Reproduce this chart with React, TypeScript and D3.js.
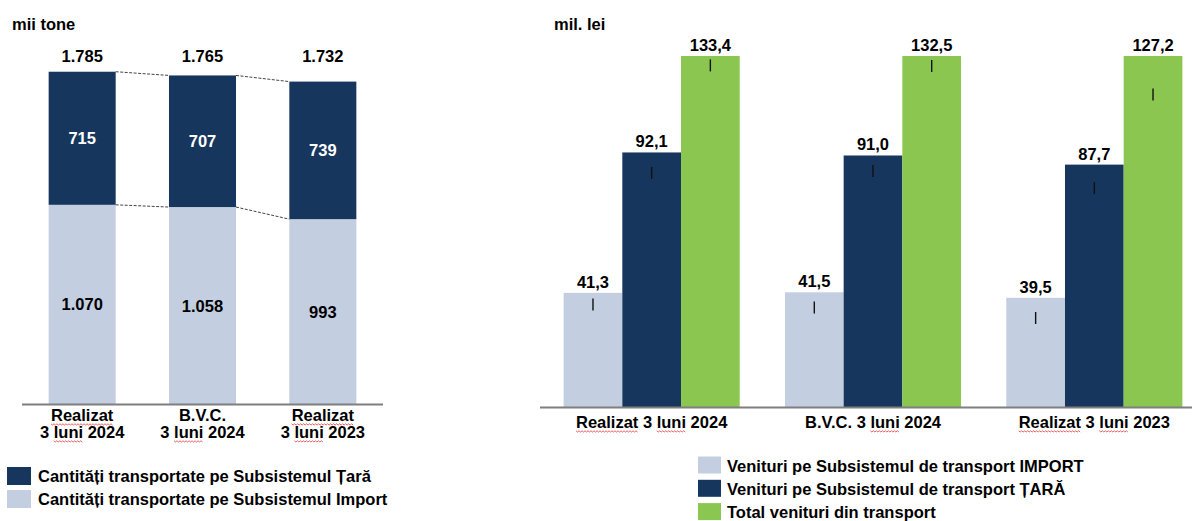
import React, { useEffect, useRef } from "react";
import * as d3 from "d3";

// ---------- data ----------
const qtyCategories = [
  ["Realizat", "3 luni 2024"],
  ["B.V.C.", "3 luni 2024"],
  ["Realizat", "3 luni 2023"],
];
const qtyTara = [715, 707, 739];
const qtyImport = [1070, 1058, 993];
const qtyTotal = [1785, 1765, 1732];
const qtyLegend = [
  "Cantități transportate pe Subsistemul Țară",
  "Cantități transportate pe Subsistemul Import",
];

const revCategories = ["Realizat 3 luni 2024", "B.V.C. 3 luni 2024", "Realizat 3 luni 2023"];
const revSeries = ["import", "tara", "total"];
const revImport = [41.3, 41.5, 39.5];
const revTara = [92.1, 91.0, 87.7];
const revTotal = [133.4, 132.5, 127.2];
const markImport = [37.1, 36.0, 32.2];
const markTara = [84.7, 85.4, 79.2];
const markTotal = [123.6, 123.4, 113.1];
const revLegend = [
  "Venituri pe Subsistemul de transport IMPORT",
  "Venituri pe Subsistemul de transport ȚARĂ",
  "Total venituri din transport",
];
const misspelled = ["Realizat", "luni"];

// ---------- style ----------
const NAVY = "#17365d";
const LIGHT = "#c3cee0";
const GREEN = "#8bc750";
const AXIS = "#7f7f7f";
const FONT = "'Liberation Sans', Arial, sans-serif";
const FS = 16.5;

const locale = d3.formatLocale({ decimal: ",", thousands: ".", grouping: [3], currency: ["", ""] });
const fmtInt = locale.format(",d");
const fmtDec = locale.format(",.1f");

function squiggle(g: any, textSel: any, baseline: number) {
  const node = textSel.node() as SVGTextElement;
  const txt = node.textContent || "";
  const bb = node.getBBox();
  misspelled.forEach((w) => {
    let idx = txt.indexOf(w);
    while (idx >= 0) {
      const start = bb.x + (idx > 0 ? node.getSubStringLength(0, idx) : 0);
      const len = node.getSubStringLength(idx, w.length);
      const pts: [number, number][] = [];
      for (let x = 0, k = 0; x <= len; x += 1.5, k++) pts.push([start + x, baseline + 3 + (k % 2 ? 1 : -0.2)]);
      g.append("path")
        .attr("d", d3.line()(pts))
        .attr("fill", "none")
        .attr("stroke", "#e23a3a")
        .attr("stroke-width", 0.8);
      idx = txt.indexOf(w, idx + w.length);
    }
  });
}

export default function App() {
  const ref = useRef<SVGSVGElement>(null);

  useEffect(() => {
    const svg = d3.select(ref.current);
    svg.selectAll("*").remove();
    svg.attr("font-family", FONT).attr("font-weight", "bold");

    // ================= LEFT CHART =================
    const L = svg.append("g");
    const xL = d3.scaleBand<number>().domain([0, 1, 2]).range([22, 383]).paddingInner(0.443).paddingOuter(0.2215);
    const yL = d3.scaleLinear().domain([0, 2000]).range([404, 31.7]);
    const bw = xL.bandwidth();

    L.append("text").attr("x", 12).attr("y", 30).attr("font-size", FS).attr("fill", "#000").text("mii tone");

    qtyCategories.forEach((_, i) => {
      const x = xL(i)!;
      L.append("rect")
        .attr("x", x).attr("width", bw)
        .attr("y", yL(qtyImport[i])).attr("height", yL(0) - yL(qtyImport[i]))
        .attr("fill", LIGHT);
      L.append("rect")
        .attr("x", x).attr("width", bw)
        .attr("y", yL(qtyTotal[i])).attr("height", yL(qtyImport[i]) - yL(qtyTotal[i]))
        .attr("fill", NAVY);
    });

    for (let i = 0; i < qtyCategories.length - 1; i++) {
      [qtyTotal, qtyImport].forEach((arr) => {
        L.append("line")
          .attr("x1", xL(i)! + bw).attr("y1", yL(arr[i]))
          .attr("x2", xL(i + 1)!).attr("y2", yL(arr[i + 1]))
          .attr("stroke", "#444").attr("stroke-width", 1).attr("stroke-dasharray", "3,1.5");
      });
    }

    qtyCategories.forEach((_, i) => {
      const cx = xL(i)! + bw / 2;
      L.append("text").attr("x", cx).attr("y", 62).attr("text-anchor", "middle")
        .attr("font-size", FS).attr("fill", "#000").text(fmtInt(qtyTotal[i]));
      L.append("text").attr("x", cx).attr("y", (yL(qtyTotal[i]) + yL(qtyImport[i])) / 2 + 6)
        .attr("text-anchor", "middle").attr("font-size", FS).attr("fill", "#fff").text(fmtInt(qtyTara[i]));
      L.append("text").attr("x", cx).attr("y", (yL(qtyImport[i]) + yL(0)) / 2 + 6)
        .attr("text-anchor", "middle").attr("font-size", FS).attr("fill", "#000").text(fmtInt(qtyImport[i]));
    });

    L.append("line").attr("x1", 22).attr("x2", 383).attr("y1", yL(0) + 0.5).attr("y2", yL(0) + 0.5)
      .attr("stroke", AXIS).attr("stroke-width", 2);
    qtyCategories.forEach((lines, i) => {
      const cx = xL(i)! + bw / 2;
      lines.forEach((ln, j) => {
        const by = 421 + j * 17;
        const t = L.append("text").attr("x", cx).attr("y", by).attr("text-anchor", "middle")
          .attr("font-size", FS).attr("fill", "#000").text(ln);
        squiggle(L, t, by);
      });
    });

    [NAVY, LIGHT].forEach((c, i) => {
      const ty = 482 + i * 23;
      L.append("rect").attr("x", 7).attr("y", ty - 15).attr("width", 24).attr("height", 18).attr("fill", c);
      L.append("text").attr("x", 38).attr("y", ty).attr("font-size", FS).attr("fill", "#000").text(qtyLegend[i]);
    });

    // ================= RIGHT CHART =================
    const R = svg.append("g");
    const x0 = d3.scaleBand<number>().domain([0, 1, 2]).range([541, 1205]).paddingInner(0.2045).paddingOuter(0.10225);
    const x1 = d3.scaleBand<string>().domain(revSeries).range([0, x0.bandwidth()]);
    const yR = d3.scaleLinear().domain([0, 127]).range([407, 56]).clamp(true);
    const values: Record<string, number[]> = { import: revImport, tara: revTara, total: revTotal };
    const marks: Record<string, number[]> = { import: markImport, tara: markTara, total: markTotal };
    const colors: Record<string, string> = { import: LIGHT, tara: NAVY, total: GREEN };

    R.append("text").attr("x", 554).attr("y", 30).attr("font-size", FS).attr("fill", "#000").text("mil. lei");

    revCategories.forEach((_, i) => {
      revSeries.forEach((s) => {
        const v = values[s][i];
        const x = x0(i)! + x1(s)!;
        const w = x1.bandwidth();
        R.append("rect").attr("x", x).attr("width", w)
          .attr("y", yR(v)).attr("height", yR(0) - yR(v)).attr("fill", colors[s]);
        const my = yR(marks[s][i]);
        R.append("line").attr("x1", x + w / 2).attr("x2", x + w / 2)
          .attr("y1", my - 6).attr("y2", my + 6).attr("stroke", "#111").attr("stroke-width", 1.4);
        R.append("text").attr("x", x + w / 2).attr("y", yR(v) - 5).attr("text-anchor", "middle")
          .attr("font-size", FS).attr("fill", "#000").text(fmtDec(v));
      });
    });

    R.append("line").attr("x1", 540).attr("x2", 1192).attr("y1", yR(0) + 0.5).attr("y2", yR(0) + 0.5)
      .attr("stroke", AXIS).attr("stroke-width", 2);
    revCategories.forEach((c, i) => {
      const cx = x0(i)! + x0.bandwidth() / 2;
      const t = R.append("text").attr("x", cx).attr("y", 428).attr("text-anchor", "middle")
        .attr("font-size", FS).attr("fill", "#000").text(c);
      squiggle(R, t, 428);
    });

    [LIGHT, NAVY, GREEN].forEach((c, i) => {
      const ty = 471.5 + i * 23.3;
      R.append("rect").attr("x", 698).attr("y", ty - 15).attr("width", 23).attr("height", 17).attr("fill", c);
      R.append("text").attr("x", 727).attr("y", ty).attr("font-size", FS).attr("fill", "#000").text(revLegend[i]);
    });
  }, []);

  return (
    <svg
      ref={ref}
      width={1192}
      height={521}
      style={{ position: "absolute", left: 0, top: 0, background: "#fff" }}
    />
  );
}
